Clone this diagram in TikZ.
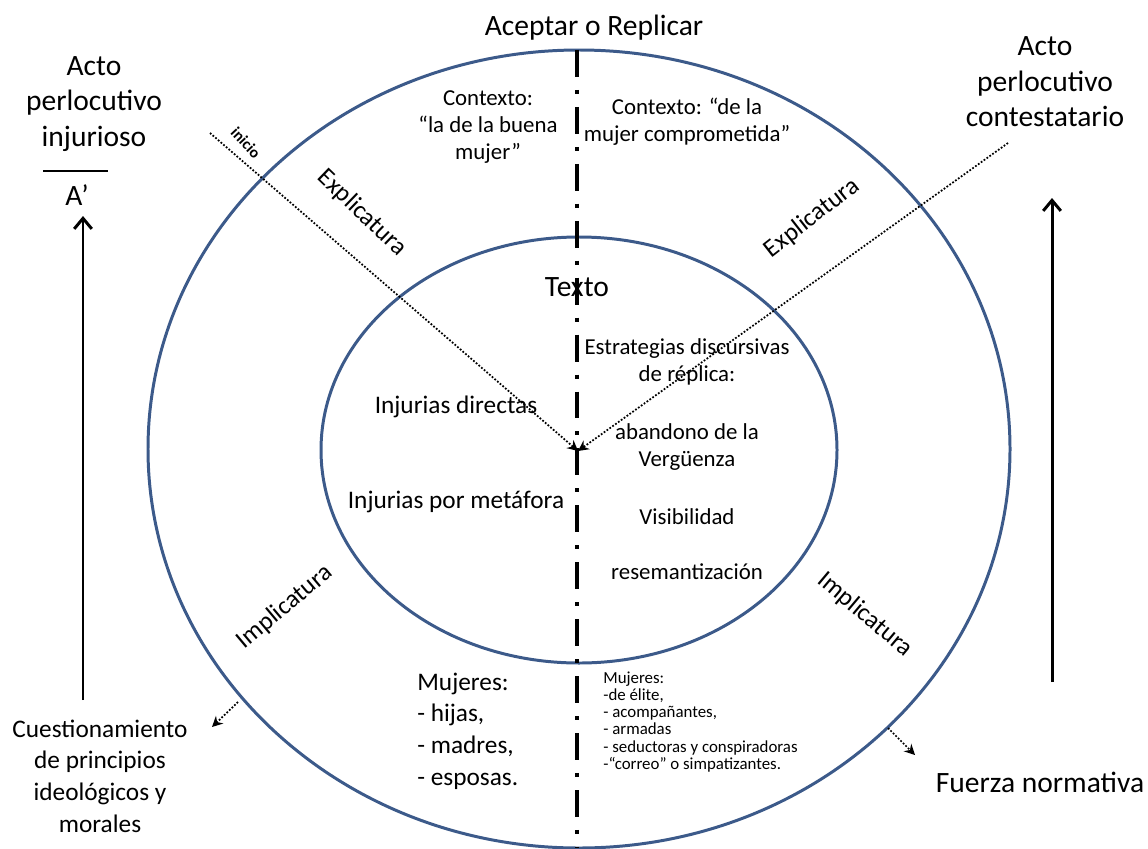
\documentclass[tikz,border=0pt]{standalone}
\usepackage{fontspec}
\setmainfont{Carlito}
\usetikzlibrary{arrows, arrows.meta}
\definecolor{ringblue}{RGB}{60, 90, 138}

\begin{document}
\begin{tikzpicture}[x=0.02cm, y=-0.02cm,
        ring/.style={ringblue, line width=1.7pt},
        axisline/.style={line width=2.3pt, dash pattern=on 15.3pt off 7.4pt on 2.3pt off 7.4pt},
        dotline/.style={densely dotted, line width=1pt, -{Stealth[length=6pt, width=6pt]}},
        bigarrow/.style={-{Straight Barb[length=6pt, width=10pt, line width=1.7pt]}, line width=1.7pt},
        lbl/.style={align=center, inner sep=0pt},
        huge/.style={lbl, font={\fontsize{16.8}{20.2}\selectfont}},
        large/.style={lbl, font={\fontsize{14.4}{18}\selectfont}},
        mid/.style={lbl, font={\fontsize{13}{15.6}\selectfont}},
        tiny/.style={lbl, align=left, font={\fontsize{9.6}{9.7}\selectfont}}]
    \useasboundingbox (0,0) rectangle (1148,848);
    \draw[ring]                         (579,449) ellipse (431 and 399);
    \draw[ring]                         (579,450) ellipse (258 and 213);
    \draw[axisline]                     (577, 50) -- (577,848);

    \coordinate (core)   at (578,451);
    \coordinate (lstart) at (210,133);
    \coordinate (rstart) at (1008,143);
    \draw[dotline] (lstart) -- (core);
    \draw[dotline] (rstart) -- (core);

    \node[huge]  (aceptar)  at (594, 28) {Aceptar o Replicar};
    \node[huge]  (actoinj)  at ( 94,104) {Acto\\perlocutivo\\injurioso};
    \node[huge]  (aprime)   at ( 77,195) {A’};
    \draw[line width=1.7pt] (43,171) -- (108,171);
    \node[huge]  (actocont) at (1045,82) {Acto\\perlocutivo\\contestatario};
    \node[large] (cuestion) at (100,776) {Cuestionamiento\\de principios\\ideológicos y\\morales};
    \node[huge]  (fuerza)   at (1040,782) {Fuerza normativa};

    \coordinate (lbot) at (83,700);
    \coordinate (ltop) at (83,216);
    \coordinate (rbot) at (1052,682);
    \coordinate (rtop) at (1052,198);
    \draw[bigarrow] (lbot) -- (ltop);
    \draw[bigarrow] (rbot) -- (rtop);

    \node[mid]   (ctxbuena) at (488,127) {Contexto:\\“la de la buena\\mujer”};
    \node[mid]   (ctxcomp)  at (687,122) {Contexto: “de la\\mujer comprometida”};
    \node[huge]  (texto)    at (577,287) {Texto};
    \node[mid]   (estrat)   at (687,362) {Estrategias discursivas\\de réplica:};
    \node[mid]   (abandono) at (687,447) {abandono de la\\Vergüenza};
    \node[mid]   (visib)    at (687,517) {Visibilidad};
    \node[mid]   (resem)    at (687,572) {resemantización};
    \node[large] (injdir)   at (456,407) {Injurias directas};
    \node[large] (injmet)   at (456,502) {Injurias por metáfora};
    \node[large, anchor=west, align=left] (mujhijas) at (417,731) {Mujeres:\\- hijas,\\- madres,\\- esposas.};
    \node[tiny,  anchor=west] (mujelite) at (603,722) {Mujeres:\\-de élite,\\- acompañantes,\\- armadas\\- seductoras y conspiradoras\\-“correo” o simpatizantes.};

    \node[large, rotate=-44] (explizq) at (362,213) {Explicatura};
    \node[large, rotate=38]  (explder) at (812,218) {Explicatura};
    \node[large, rotate=40]  (implizq) at (285,607) {Implicatura};
    \node[large, rotate=-40] (implder) at (865,615) {Implicatura};
    \node[lbl, rotate=-47, font={\fontsize{9}{10}\selectfont\bfseries}] (inicio) at (246,143) {inicio};

    \coordinate (cuesa) at (238,702);
    \coordinate (cuesb) at (212,727);
    \coordinate (fuera) at (888,728);
    \coordinate (fuerb) at (915,755);
    \draw[dotline] (cuesa) -- (cuesb);
    \draw[dotline] (fuera) -- (fuerb);
\end{tikzpicture}
\end{document}
